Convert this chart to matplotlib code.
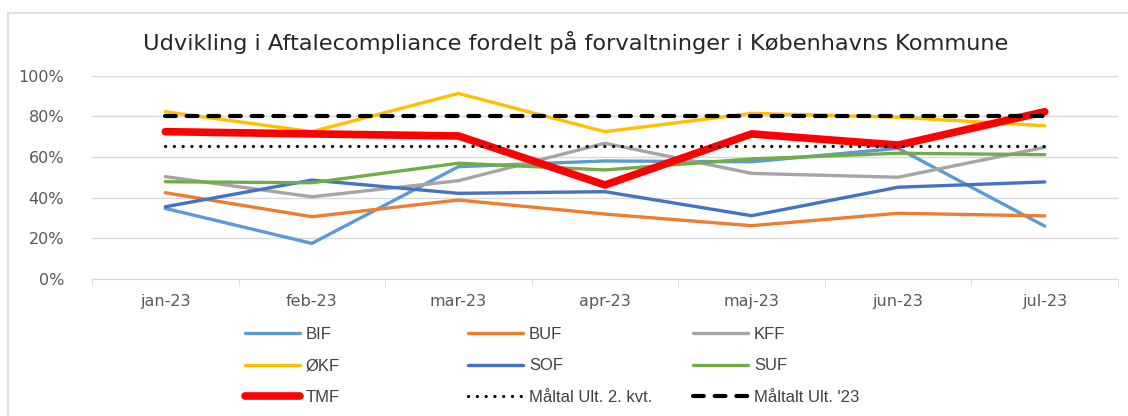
import matplotlib.pyplot as plt
from matplotlib.patches import Rectangle

months = ['jan-23', 'feb-23', 'mar-23', 'apr-23', 'maj-23', 'jun-23', 'jul-23']

bif = [0.347, 0.175, 0.552, 0.580, 0.576, 0.642, 0.260]
buf = [0.424, 0.306, 0.388, 0.319, 0.262, 0.323, 0.310]
kff = [0.503, 0.404, 0.483, 0.667, 0.519, 0.500, 0.647]
okf = [0.822, 0.724, 0.912, 0.724, 0.814, 0.795, 0.753]
sof = [0.355, 0.486, 0.421, 0.429, 0.311, 0.451, 0.477]
suf = [0.478, 0.473, 0.569, 0.536, 0.590, 0.618, 0.611]
tmf = [0.724, 0.713, 0.703, 0.462, 0.713, 0.658, 0.822]
maal_q2 = 0.655
maal_23 = 0.80

title = 'Udvikling i Aftalecompliance fordelt på forvaltninger i Københavns Kommune'

fig = plt.figure(figsize=(11.28, 4.16), dpi=100)
fig.patches.append(Rectangle((8 / 1128, -0.1), 1.2, 1 - 13 / 416 + 0.1,
                             transform=fig.transFigure, fill=False,
                             edgecolor='#d9d9d9', linewidth=1.2))

ax = fig.add_axes([92 / 1128, 1 - 279 / 416, 1026 / 1128, 203.5 / 416])
x = range(len(months))

series = [
    ('BIF', bif, '#5B9BD5', 2.4),
    ('BUF', buf, '#ED7D31', 2.4),
    ('KFF', kff, '#A5A5A5', 2.4),
    ('ØKF', okf, '#FFC000', 2.4),
    ('SOF', sof, '#4472C4', 2.4),
    ('SUF', suf, '#70AD47', 2.4),
    ('TMF', tmf, '#FF0000', 5.5),
]
handles = {}
for name, vals, col, lw in series:
    h, = ax.plot(x, vals, color=col, linewidth=lw, solid_capstyle='round',
                 solid_joinstyle='round', label=name)
    handles[name] = h

h_q2, = ax.plot(x, [maal_q2] * len(months), color='black', linewidth=2.3,
                linestyle=(0, (0.05, 2.7)), dash_capstyle='round',
                label='Måltal Ult. 2. kvt.')
h_23, = ax.plot(x, [maal_23] * len(months), color='black', linewidth=3,
                linestyle=(0, (2.6, 2.6)), dash_capstyle='round',
                label="Måltalt Ult. '23")

ax.set_xlim(-0.5, len(months) - 0.5)
ax.set_ylim(0, 1)
ax.set_yticks([0, 0.2, 0.4, 0.6, 0.8, 1.0])
ax.set_yticklabels(['0%', '20%', '40%', '60%', '80%', '100%'])
ax.set_xticks(list(x))
ax.set_xticklabels(months)
ax.set_xticks([i - 0.5 for i in range(len(months) + 1)], minor=True)
ax.tick_params(axis='x', which='major', length=0, pad=11, labelsize=11.5,
               labelcolor='#595959')
ax.tick_params(axis='x', which='minor', length=5, color='#d9d9d9', direction='out')
ax.tick_params(axis='y', length=0, pad=20, labelsize=11.5, labelcolor='#595959')
ax.grid(axis='y', color='#d9d9d9', linewidth=1)
ax.set_axisbelow(True)
for s in ['left', 'right', 'top']:
    ax.spines[s].set_visible(False)
ax.spines['bottom'].set_color('#d9d9d9')

fig.text(0.51, 1 - 42 / 416, title, ha='center', va='center', fontsize=16.2,
         family='DejaVu Sans', color='#262626')

cols = [
    (247, [handles['BIF'], handles['ØKF'], handles['TMF']]),
    (470, [handles['BUF'], handles['SOF'], h_q2]),
    (695, [handles['KFF'], handles['SUF'], h_23]),
]
for x0, hs in cols:
    leg = fig.legend(hs, [h.get_label() for h in hs], loc='upper left',
                     bbox_to_anchor=((x0 - 2) / 1128, 1 - 327 / 416),
                     frameon=False, handlelength=3.3, handletextpad=0.35,
                     labelspacing=0.98, borderpad=0, borderaxespad=0,
                     prop={'family': 'Liberation Sans', 'size': 12})
    for t in leg.get_texts():
        t.set_color('#404040')

fig.savefig('out.png', dpi=100)
